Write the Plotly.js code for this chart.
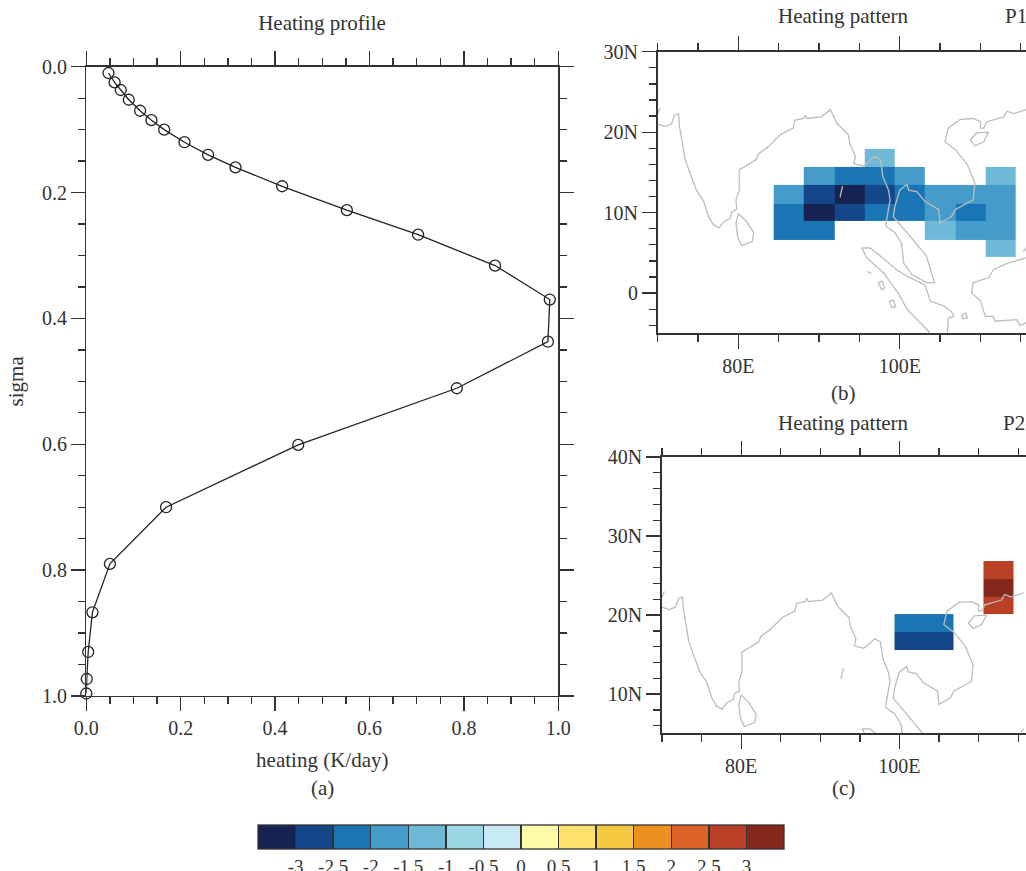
<!DOCTYPE html>
<html><head><meta charset="utf-8">
<script src="https://cdn.plot.ly/plotly-3.0.1.min.js"></script>
<style>html,body{margin:0;padding:0;background:#fff;overflow:hidden}</style>
</head><body><div id="chart" style="width:1026px;height:871px"></div>
<script>
// Panel (a): heating profile
const heating = [0.047,0.060,0.073,0.090,0.114,0.138,0.165,0.208,0.258,0.316,0.415,0.552,0.703,0.866,0.982,0.978,0.785,0.449,0.169,0.050,0.013,0.004,0.001,0.000];
const sigma   = [0.010,0.025,0.037,0.0525,0.070,0.085,0.100,0.120,0.140,0.160,0.190,0.228,0.267,0.316,0.370,0.437,0.511,0.601,0.700,0.790,0.867,0.930,0.973,0.996];

// Panel (b): heating pattern P1 (cell edges and mid-bin values)
const lonEdgesB = [84.375,88.125,91.875,95.625,99.375,103.125,106.875,110.625,114.375];
const latEdgesB = [4.44,6.67,8.91,11.14,13.46,15.69,17.92];
const heatB = [
 [null,null,null,null,null,null,null,-1.25],
 [-2.25,-2.25,null,null,null,-1.25,-1.75,-1.75],
 [-2.25,-3.25,-2.75,-2.25,-2.25,-1.75,-2.25,-1.75],
 [-1.75,-2.75,-3.25,-2.75,-2.25,-1.75,-1.75,-1.75],
 [null,-1.75,-2.25,-2.25,-1.75,null,null,-1.25],
 [null,null,null,-1.25,null,null,null,null]
];

// Panel (c): heating pattern P2
const lonEdgesC = [99.375,103.125,106.875,110.625,114.375];
const latEdgesC = [15.57,17.85,20.13,22.28,24.56,26.84];
const heatC = [
 [-2.75,-2.75,null,null],
 [-2.25,-2.25,null,null],
 [null,null,null,2.75],
 [null,null,null,3.25],
 [null,null,null,2.75]
];

// Coastlines (lon, lat); null separates segments
const coastLon = [70.0,70.9,71.7,72.1,72.6,72.7,73.0,73.4,74.0,74.8,75.7,76.3,76.9,77.6,78.2,79.0,79.2,79.8,79.7,80.1,80.1,81.0,82.2,82.5,83.7,85.2,86.8,87.0,88.1,88.3,88.5,90.3,91.4,92.2,93.6,93.8,94.5,94.3,95.5,96.9,97.6,97.9,98.6,98.8,98.6,98.3,98.3,99.4,100.2,100.5,101.5,103.3,104.3,103.8,103.3,100.9,99.6,99.2,99.4,100.0,100.9,101.1,102.1,103.1,104.8,105.0,106.4,106.9,109.1,109.3,108.3,106.9,105.6,106.0,107.5,109.1,110.0,110.0,110.4,110.8,112.9,113.3,114.1,115.7,null,
 70.0,70.3,null,
 80.0,81.0,81.9,81.7,80.4,79.9,79.7,80.0,null,
 108.7,109.5,111.0,110.4,109.3,108.7,null,
 92.9,92.6,null,
 95.3,96.3,97.6,99.6,100.9,103.1,103.8,105.4,106.4,106.7,106.0,105.9,null,
 95.3,95.9,98.0,99.8,100.9,103.7,null,
 115.7,113.3,111.6,111.0,109.1,108.9,110.0,110.6,111.6,111.8,114.5,114.9,115.7,null,
 115.7,115.3,null,
 96.0,96.5,null,
 97.3,97.8,98.1,97.8,97.3,null,
 98.7,99.2,99.5,99.0,98.7,null,
 107.7,108.2,108.4,107.8,107.7];
const coastLat = [21.0,20.7,21.0,22.1,22.3,20.7,19.0,16.6,14.9,12.8,11.4,9.5,8.5,8.1,8.9,9.3,10.1,10.4,11.6,12.8,15.3,15.9,16.6,17.3,18.2,19.7,20.5,21.5,21.7,22.1,21.7,21.9,22.8,21.1,19.7,18.6,17.0,16.1,15.8,17.0,16.6,14.5,12.8,11.6,10.6,8.7,8.3,7.5,6.2,3.7,2.3,1.3,1.3,2.9,4.6,7.5,9.1,9.5,10.8,12.8,13.5,12.8,12.6,11.4,10.4,8.7,9.5,10.4,11.6,13.7,16.1,17.8,18.8,20.5,21.6,21.7,21.3,20.5,20.5,21.3,21.9,22.6,22.3,22.8,null,
 22.3,23.0,null,
 9.9,8.9,7.5,6.4,5.9,7.0,8.7,9.9,null,
 19.0,19.9,20.0,18.8,18.3,19.0,null,
 13.3,11.9,null,
 5.6,5.6,4.6,2.9,2.1,1.0,-1.0,-1.6,-2.3,-2.9,-3.1,-4.9,null,
 5.6,4.4,2.5,0.0,-2.0,-4.9,null,
 4.4,3.7,2.9,1.9,1.3,0.0,-1.0,-2.9,-2.9,-3.5,-3.3,-4.0,-3.7,null,
 5.6,5.2,null,
 2.7,2.4,null,
 1.3,1.5,0.6,0.4,1.3,null,
 -1.0,-0.9,-1.7,-1.8,-1.0,null,
 -2.7,-2.5,-3.1,-3.2,-2.7];

// Colour bar
const binColors = ['#162350','#14478a','#1a75b4','#459ccb','#6fb9d8','#9cd7e5','#c8eaf5','#fdfaaa','#fde06e','#f5c842','#ec9020','#dc6428','#b94026','#85271a'];
const levelVals = [-3,-2.5,-2,-1.5,-1,-0.5,0,0.5,1,1.5,2,2.5,3];
const levelText = ['-3','-2.5','-2','-1.5','-1','-0.5','0','0.5','1','1.5','2','2.5','3'];

const W = 1026, H = 871;
const FONT = '"Liberation Serif", serif', TXT = '#333333', LINE = '#333333', COAST = '#bdbdbd';
const px = v => v / W, py = v => 1 - v / H;

const colorscale = [];
binColors.forEach((c, i) => { colorscale.push([i / 14, c]); colorscale.push([(i + 1) / 14, c]); });

function axisBase(extra) {
  return Object.assign({
    showgrid: false, zeroline: false, showline: true, linecolor: LINE, linewidth: 1.3,
    ticks: 'outside', ticklen: 14, tickwidth: 1.3, tickcolor: LINE, mirror: 'ticks',
    tickfont: {family: FONT, size: 20, color: TXT}, fixedrange: true
  }, extra);
}
function minor(d) { return {dtick: d, ticks: 'outside', ticklen: 7, tickwidth: 1.3, tickcolor: LINE}; }

const traces = [
  {type: 'scatter', mode: 'lines+markers', x: heating, y: sigma, xaxis: 'x', yaxis: 'y', cliponaxis: false,
   line: {color: '#222', width: 1.3}, marker: {symbol: 'circle-open', size: 11, color: '#222', line: {width: 1.3, color: '#222'}}, showlegend: false},
  {type: 'heatmap', x: lonEdgesB, y: latEdgesB, z: heatB, xaxis: 'x2', yaxis: 'y2',
   zmin: -3.5, zmax: 3.5, colorscale: colorscale, showscale: true,
   colorbar: {orientation: 'h', lenmode: 'pixels', len: 526, thicknessmode: 'pixels', thickness: 24,
     x: px(258), xanchor: 'left', y: py(825), yanchor: 'top', xpad: 0, ypad: 0,
     outlinecolor: '#333', outlinewidth: 1.3, tickmode: 'array', tickvals: levelVals, ticktext: levelText,
     ticks: 'inside', ticklen: 24, tickwidth: 1.3, tickcolor: '#333',
     tickfont: {family: FONT, size: 19, color: TXT}}},
  {type: 'scatter', mode: 'lines', x: coastLon, y: coastLat, xaxis: 'x2', yaxis: 'y2',
   line: {color: COAST, width: 1.3}, connectgaps: false, showlegend: false, hoverinfo: 'skip'},
  {type: 'heatmap', x: lonEdgesC, y: latEdgesC, z: heatC, xaxis: 'x3', yaxis: 'y3',
   zmin: -3.5, zmax: 3.5, colorscale: colorscale, showscale: false},
  {type: 'scatter', mode: 'lines', x: coastLon, y: coastLat, xaxis: 'x3', yaxis: 'y3',
   line: {color: COAST, width: 1.3}, connectgaps: false, showlegend: false, hoverinfo: 'skip'}
];

const lonTicks = [80, 100], lonText = ['80E', '100E'];
const latTicksB = [0, 10, 20, 30], latTextB = ['0', '10N', '20N', '30N'];
const latTicksC = [10, 20, 30, 40], latTextC = ['10N', '20N', '30N', '40N'];

const annText = (text, x, y, extra) => Object.assign({
  text, xref: 'paper', yref: 'paper', x: px(x), y: py(y), xanchor: 'center', yanchor: 'middle',
  showarrow: false, font: {family: FONT, size: 21, color: TXT}
}, extra || {});

const layout = {
  width: W, height: H, margin: {l: 0, r: 0, t: 0, b: 0, pad: 0, autoexpand: false},
  paper_bgcolor: '#fff', plot_bgcolor: '#fff', showlegend: false,
  title: {text: 'Heating profile', x: px(322), y: py(23), xanchor: 'center', yanchor: 'middle', font: {family: FONT, size: 21, color: TXT}},
  xaxis: axisBase({domain: [px(86.3), px(558.3)], range: [0, 1], anchor: 'y', side: 'bottom',
    tickmode: 'array', tickvals: [0,0.2,0.4,0.6,0.8,1], ticktext: ['0.0','0.2','0.4','0.6','0.8','1.0'], minor: minor(0.05),
    title: {text: 'heating (K/day)', font: {family: FONT, size: 21, color: TXT}, standoff: 14}}),
  yaxis: axisBase({domain: [py(696), py(66.7)], range: [1, 0], anchor: 'x',
    tickmode: 'array', tickvals: [0,0.2,0.4,0.6,0.8,1], ticktext: ['0.0','0.2','0.4','0.6','0.8','1.0'], minor: minor(0.05),
    title: {text: 'sigma', font: {family: FONT, size: 21, color: TXT}, standoff: 12}}),
  xaxis2: axisBase({domain: [px(657.7), 1], range: [70, 115.64], anchor: 'y2', linewidth: 1.7,
    tickmode: 'array', tickvals: lonTicks, ticktext: lonText, minor: minor(5)}),
  yaxis2: axisBase({domain: [py(333.3), py(51.7)], range: [-5, 30], anchor: 'x2', mirror: false, linewidth: 1.7,
    tickmode: 'array', tickvals: latTicksB, ticktext: latTextB, minor: minor(2)}),
  xaxis3: axisBase({domain: [px(662), 1], range: [70, 115.99], anchor: 'y3', linewidth: 1.7,
    tickmode: 'array', tickvals: lonTicks, ticktext: lonText, minor: minor(5)}),
  yaxis3: axisBase({domain: [py(733.3), py(457)], range: [5.04, 40], anchor: 'x3', mirror: false, linewidth: 1.7,
    tickmode: 'array', tickvals: latTicksC, ticktext: latTextC, minor: minor(2)}),
  annotations: [
    annText('Heating pattern', 843.5, 16),
    annText('P1', 1016, 16),
    annText('Heating pattern', 843.5, 423),
    annText('P2', 1014, 423),
    annText('(a)', 322, 788),
    annText('(b)', 843, 393),
    annText('(c)', 843, 788)
  ]
};
Plotly.newPlot('chart', traces, layout, {displayModeBar: false, staticPlot: true});
</script></body></html>
